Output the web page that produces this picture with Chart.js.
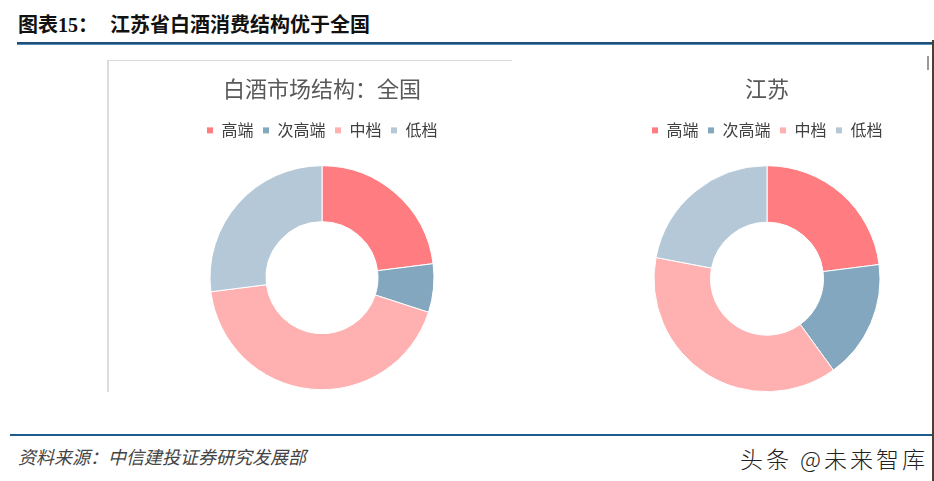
<!DOCTYPE html>
<html>
<head>
<meta charset="utf-8">
<script src="https://cdn.jsdelivr.net/npm/chart.js@4.4.0/dist/chart.umd.min.js"></script>
<style>
  body { margin:0; width:934px; height:481px; background:#fff; position:relative; overflow:hidden;
         font-family:"Noto Sans CJK SC", sans-serif; }
  .abs { position:absolute; }
  #head { left:18px; top:9px; font-size:20px; font-weight:bold; color:#111;
          font-family:"Liberation Serif","Noto Sans CJK SC",serif; white-space:nowrap; }
  #head span { position:absolute; left:92px; top:0; font-family:"Noto Sans CJK SC"; }
  #topline { left:17px; top:42px; width:915px; height:2px; background:#1F4E79; border-bottom:1px solid #5B8DB8; }
  #botline { left:10px; top:434px; width:922px; height:2px; background:#1F5B8C; }
  #src { left:18px; top:443px; font-size:18px; font-style:italic; color:#444; white-space:nowrap; }
  #wm { left:740px; top:441px; font-size:23px; letter-spacing:3px; color:#222; white-space:nowrap; font-weight:300; }
  #box { left:107px; top:60px; width:403px; height:331px; border-top:1px solid #dcdcdc; border-left:2px solid #dcdcdc; }
  #edge { left:932px; top:40px; width:2px; height:441px; background:#4a3f33; }
  #tick { left:927px; top:56px; width:2px; height:14px; background:#999; }
  #c1 { left:150px; top:61px; }
  #c2 { left:600px; top:61px; }
</style>
</head>
<body>
<div id="head" class="abs">图表15：<span>江苏省白酒消费结构优于全国</span></div>
<div id="topline" class="abs"></div>
<div id="box" class="abs"></div>
<div id="edge" class="abs"></div>
<div id="tick" class="abs"></div>
<div class="abs" id="c1"><canvas id="chart1" width="344" height="346"></canvas></div>
<div class="abs" id="c2"><canvas id="chart2" width="334" height="348"></canvas></div>
<div id="botline" class="abs"></div>
<div id="src" class="abs">资料来源：中信建投证券研究发展部</div>
<div id="wm" class="abs">头条 @未来智库</div>
<script>
// 白酒消费结构（%）
const segments = ['高端', '次高端', '中档', '低档']
const nationwide = [23, 7, 43, 27]
const jiangsu = [23, 17, 38, 22]
const colors = ['#FF7C80', '#84A7C0', '#FFB1B1', '#B4C8D8']

function makeDoughnut(id, title, values, radius) {
  return new Chart(document.getElementById(id), {
    type: 'doughnut',
    data: {
      labels: segments,
      datasets: [{
        data: values,
        backgroundColor: colors,
        borderColor: '#fff',
        borderWidth: 1,
        radius: radius,
        cutout: '50%'
      }]
    },
    options: {
      responsive: false,
      animation: false,
      layout: { padding: 0 },
      plugins: {
        title: {
          display: true,
          text: title,
          color: '#595959',
          font: { family: 'Noto Sans CJK SC', size: 22, weight: 'normal' },
          padding: { top: 14, bottom: 12 }
        },
        legend: {
          position: 'top',
          labels: {
            color: '#404040',
            font: { family: 'Noto Sans CJK SC', size: 16 },
            boxWidth: 7,
            boxHeight: 7,
            padding: 9
          }
        },
        tooltip: { enabled: false }
      }
    }
  })
}

makeDoughnut('chart1', '白酒市场结构：全国', nationwide, 112)
makeDoughnut('chart2', '江苏', jiangsu, 113)
</script>
</body>
</html>
